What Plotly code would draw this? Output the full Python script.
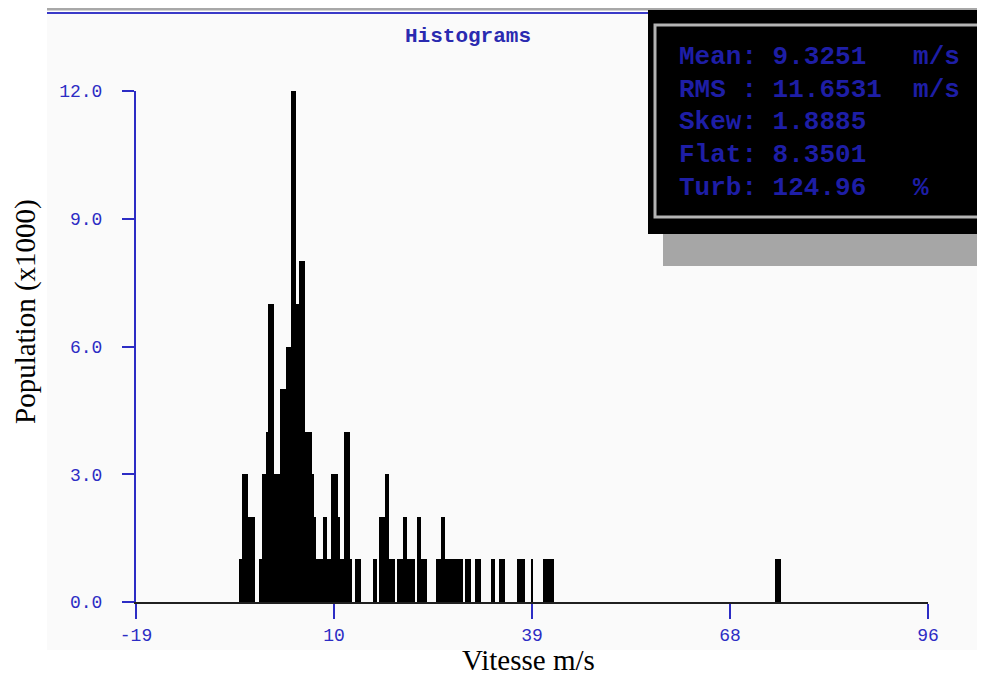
import plotly.graph_objects as go

# histogram bins (speed in m/s, population in thousands)
bin_left = [-4.00, -3.61, -2.78, -1.10, -0.70, -0.12, 0.17, 0.99, 1.87, 2.74,
            3.55, 4.19, 4.71, 5.58, 6.51, 6.80, 7.09, 8.20, 8.78, 9.36,
            10.29, 10.58, 11.16, 12.03, 12.84, 15.46, 16.33, 17.20, 17.78, 18.94,
            19.81, 20.39, 21.85, 22.43, 24.49, 25.33, 25.91, 28.82, 30.27, 32.59,
            33.75, 36.37, 38.40, 40.14, 73.83]
bin_right = [-3.61, -2.78, -1.68, -0.70, -0.12, 0.17, 0.99, 1.87, 2.74, 3.55,
             4.19, 4.71, 5.58, 6.51, 6.80, 7.09, 8.20, 8.78, 9.36, 10.29,
             10.58, 11.16, 12.03, 12.32, 13.71, 16.04, 17.20, 17.78, 18.65, 19.81,
             20.39, 21.56, 22.43, 23.30, 25.33, 25.91, 28.52, 29.69, 31.14, 33.17,
             34.62, 37.53, 38.69, 41.69, 74.70]
population = [1, 3, 2, 1, 3, 4, 7, 3, 5, 6,
              12, 7, 8, 4, 3, 2, 1, 2, 1, 3,
              2, 1, 4, 1, 1, 1, 2, 3, 1, 1,
              2, 1, 2, 1, 1, 2, 1, 1, 1, 1,
              1, 1, 1, 1, 1]

x_tick_pos = [-19, 9.75, 38.5, 67.25, 96]
x_tick_text = ["-19", "10", "39", "68", "96"]
y_ticks = [0, 3, 6, 9, 12]

stats_lines = [
    "Mean: 9.3251   m/s",
    "RMS : 11.6531  m/s",
    "Skew: 1.8885",
    "Flat: 8.3501",
    "Turb: 124.96   %",
]

# the page body has an 8px margin, so the figure is drawn 8px in from the corner
OFF = 8
W, H = 985 - OFF, 675 - OFF
L, R, T, B = 136 - OFF, 57, 91 - OFF, 73
PW, PH = W - L - R, H - T - B
BLUE = "#2c2cc4"
MONO = "Liberation Mono, DejaVu Sans Mono, monospace"
SERIF = "Liberation Serif, Times New Roman, serif"


def px_x(p):
    # screen pixel -> paper x
    return (p - OFF - L) / PW


def px_y(p):
    # screen pixel -> paper y
    return (H - B - (p - OFF)) / PH


centers = [(a + b) / 2 for a, b in zip(bin_left, bin_right)]
widths = [b - a for a, b in zip(bin_left, bin_right)]

fig = go.Figure()
fig.add_trace(go.Bar(
    x=centers, y=population, width=widths,
    marker=dict(color="black", line=dict(width=0)),
    hoverinfo="skip",
))

shapes = [
    # light panel behind the plot
    dict(type="rect", xref="paper", yref="paper", layer="below",
         x0=px_x(47), x1=px_x(990), y0=px_y(650), y1=px_y(14),
         fillcolor="#fafafa", line=dict(width=0)),
    # top rules
    dict(type="line", xref="paper", yref="paper",
         x0=px_x(47), x1=px_x(990), y0=px_y(9), y1=px_y(9),
         line=dict(color="#a8a8a8", width=3)),
    dict(type="line", xref="paper", yref="paper",
         x0=px_x(47), x1=px_x(650), y0=px_y(13), y1=px_y(13),
         line=dict(color="#3a3ac8", width=2)),
    # stats window: shadow, body, frame
    dict(type="rect", xref="paper", yref="paper",
         x0=px_x(663), x1=px_x(990), y0=px_y(266), y1=px_y(233),
         fillcolor="#a6a6a6", line=dict(width=0)),
    dict(type="rect", xref="paper", yref="paper",
         x0=px_x(648), x1=px_x(990), y0=px_y(234), y1=px_y(10),
         fillcolor="black", line=dict(width=0)),
    dict(type="rect", xref="paper", yref="paper",
         x0=px_x(655), x1=px_x(995), y0=px_y(217), y1=px_y(25),
         fillcolor="rgba(0,0,0,0)", line=dict(color="#b4b4b4", width=3)),
]

annotations = [
    dict(text="Histograms", xref="paper", yref="paper",
         x=px_x(468), y=px_y(37), showarrow=False,
         xanchor="center", yanchor="middle",
         font=dict(family=MONO, size=21, color="#2a2ab0", weight="bold")),
    dict(text="Vitesse m/s", xref="paper", yref="paper",
         x=px_x(528), y=px_y(660), showarrow=False,
         xanchor="center", yanchor="middle",
         font=dict(family=SERIF, size=29, color="black")),
    dict(text="Population (x1000)", xref="paper", yref="paper",
         x=px_x(25), y=px_y(312), showarrow=False, textangle=-90,
         xanchor="center", yanchor="middle",
         font=dict(family=SERIF, size=29, color="black")),
]
for i, line in enumerate(stats_lines):
    annotations.append(dict(
        text=line.replace(" ", "\u00a0"), xref="paper", yref="paper",
        x=px_x(677), y=px_y(57 + 32.7 * i), showarrow=False,
        xanchor="left", yanchor="middle",
        font=dict(family=MONO, size=26, color="#1e1ea6", weight="bold"),
    ))

fig.update_layout(
    width=W, height=H,
    margin=dict(l=L, r=R, t=T, b=B),
    paper_bgcolor="white",
    plot_bgcolor="#fafafa",
    showlegend=False,
    bargap=0,
    shapes=shapes,
    annotations=annotations,
)

fig.update_xaxes(
    range=[-19, 96], tickvals=x_tick_pos, ticktext=x_tick_text,
    ticks="outside", ticklen=15, tickwidth=2, tickcolor=BLUE,
    tickfont=dict(family=MONO, size=18, color=BLUE),
    showline=True, linecolor="#202020", linewidth=2,
    showgrid=False, zeroline=False,
)
fig.update_yaxes(
    range=[0, 12], tickvals=y_ticks, tickformat=".1f",
    ticks="outside", ticklen=12, tickwidth=2, tickcolor=BLUE,
    tickfont=dict(family=MONO, size=18, color=BLUE), ticklabelstandoff=16,
    showline=True, linecolor=BLUE, linewidth=2,
    showgrid=False, zeroline=False,
)

fig.write_html("out.html")
